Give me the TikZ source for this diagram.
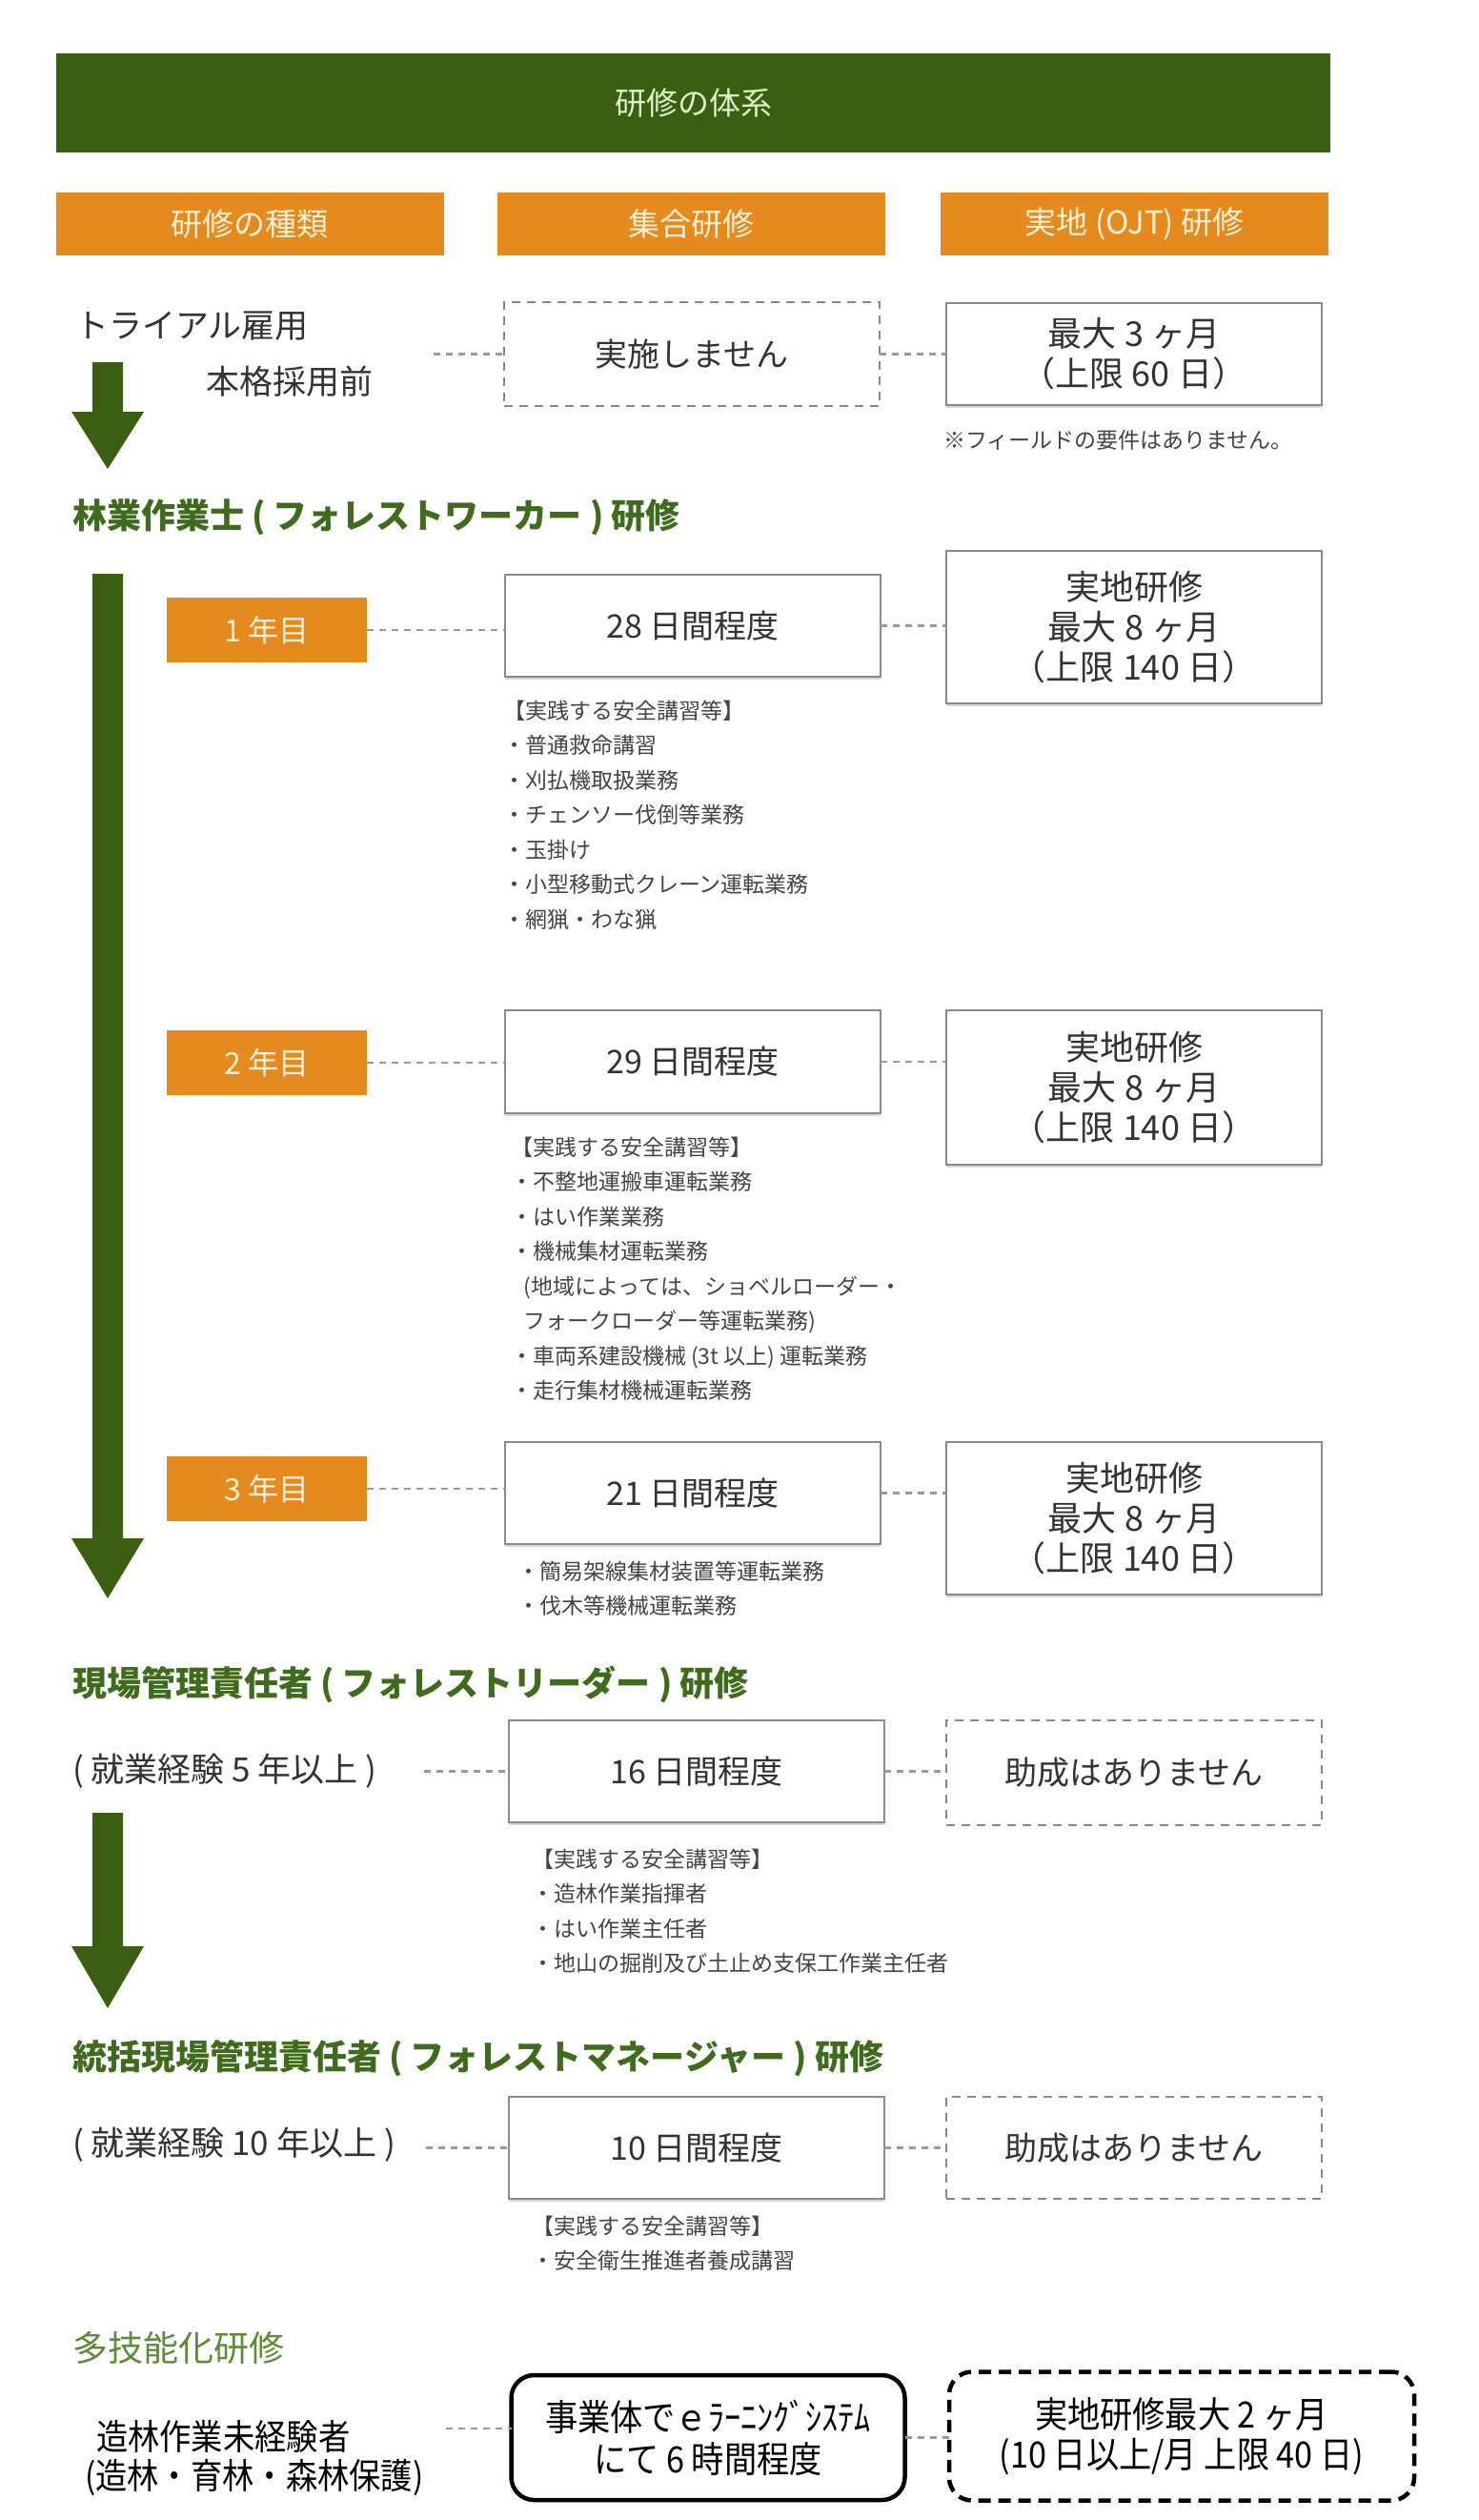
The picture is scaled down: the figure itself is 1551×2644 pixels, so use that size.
\documentclass[tikz,border=0pt]{standalone}
\usepackage{fontspec}
\setmainfont{Noto Sans CJK JP}
\newfontfamily\condfont[FakeStretch=0.9]{Noto Sans CJK JP}
\usetikzlibrary{shadows}
\definecolor{bargreen}{HTML}{3A5F12}
\definecolor{orangec}{HTML}{E58A1E}
\definecolor{headgreen}{HTML}{3E6B1C}
\definecolor{multigreen}{HTML}{5B8C37}
\definecolor{titletext}{HTML}{DDF2C8}
\definecolor{creamtext}{HTML}{FFF0D6}
\definecolor{textgray}{HTML}{333333}
\definecolor{notegray}{HTML}{444444}
\definecolor{boxgray}{HTML}{8A8A8A}
\definecolor{conngray}{HTML}{9A9A9A}
\newcommand\fsz[2]{\fontsize{#1}{#2}\selectfont}
\begin{document}
\begin{tikzpicture}[x=1pt,y=-1pt,
  every node/.style={inner sep=0pt, outer sep=0pt, text=textgray},
  hdr/.style={fill=orangec, minimum width=407pt, minimum height=66pt, text=creamtext, font=\fsz{33}{40}},
  plainbox/.style={draw=boxgray, line width=2.5pt, fill=white, minimum width=394pt, align=center,
     drop shadow={opacity=0.3, shadow xshift=0pt, shadow yshift=-3pt}},
  dashbox/.style={draw=boxgray, line width=2.5pt, dash pattern=on 9pt off 7pt, fill=white, minimum width=394pt, align=center},
  daytext/.style={font=\fsz{34}{42}},
  ojttext/.style={font=\fsz{36}{42}},
  yearbox/.style={fill=orangec, minimum width=210pt, minimum height=68pt, text=creamtext, font=\fsz{32}{40}},
  conn/.style={draw=conngray, line width=2.5pt, dash pattern=on 7pt off 6pt},
  notes/.style={anchor=north west, align=left, text=notegray, font=\fsz{23}{36.5}},
  heading/.style={anchor=west, text=headgreen, font=\fsz{36}{40}\bfseries},
  plain/.style={anchor=west, font=\fsz{35}{42}},
  multitext/.style={text=black, font=\condfont\fsz{37}{44}},
  bigarrow/.style={fill=bargreen}
]
\useasboundingbox[fill=white] (0,0) rectangle (1551,2644);

% title and column headers
\node[fill=bargreen, minimum width=1337pt, minimum height=104pt, text=titletext, font=\fsz{33}{40}] (title) at (727.5,108) {研修の体系};
\node[hdr] (h1) at (262,235) {研修の種類};
\node[hdr] (h2) at (725,235) {集合研修};
\node[hdr] (h3) at (1190.5,235) {実地 (OJT) 研修};

% trial employment
\node[plain] (trial1) at (79,342) {トライアル雇用};
\node[plain] (trial2) at (216,400) {本格採用前};
\node[dashbox, minimum height=109pt, daytext] (none) at (726,371.5) {実施しません};
\node[plainbox, minimum height=107pt, ojttext] (trialojt) at (1190,371.5) {最大 3 ヶ月\\（上限 60 日）};
\coordinate (tc) at (455,371.5);
\draw[conn] (tc) -- (none.west);
\draw[conn] (none.east) -- (trialojt.west);
\node[anchor=west, text=notegray, font=\fsz{23}{30}] (fieldnote) at (990,462) {※フィールドの要件はありません。};
\path[bigarrow] (97,380) -- (129,380) -- (129,432) -- (151,432) -- (113,492) -- (75,432) -- (97,432) -- cycle;

% forest worker
\node[heading] (hw) at (76,543) {林業作業士 ( フォレストワーカー ) 研修};
\path[bigarrow] (97,602) -- (129,602) -- (129,1614) -- (151,1614) -- (113,1677) -- (75,1614) -- (97,1614) -- cycle;

\node[yearbox] (y1) at (280,661) {1 年目};
\node[plainbox, minimum height=107pt, daytext] (b1) at (727,656.5) {28 日間程度};
\node[plainbox, minimum height=160pt, ojttext] (j1) at (1190,658) {実地研修\\最大 8 ヶ月\\（上限 140 日）};
\draw[conn] (y1.east) -- (y1.east -| b1.west);
\draw[conn] (b1.east) -- (b1.east -| j1.west);
\node[notes] (n1) at (528,735) {【実践する安全講習等】\\・普通救命講習\\・刈払機取扱業務\\・チェンソー伐倒等業務\\・玉掛け\\・小型移動式クレーン運転業務\\・網猟・わな猟};

\node[yearbox] (y2) at (280,1115) {2 年目};
\node[plainbox, minimum height=108pt, daytext] (b2) at (727,1114) {29 日間程度};
\node[plainbox, minimum height=162pt, ojttext] (j2) at (1190,1141) {実地研修\\最大 8 ヶ月\\（上限 140 日）};
\draw[conn] (y2.east) -- (y2.east -| b2.west);
\draw[conn] (b2.east) -- (b2.east -| j2.west);
\node[notes] (n2) at (536,1193) {【実践する安全講習等】\\・不整地運搬車運転業務\\・はい作業業務\\・機械集材運転業務\\\hspace*{0.6em}(地域によっては、ショベルローダー・\\\hspace*{0.6em}フォークローダー等運転業務)\\・車両系建設機械 (3t 以上) 運転業務\\・走行集材機械運転業務};

\node[yearbox] (y3) at (280,1562) {3 年目};
\node[plainbox, minimum height=107pt, daytext] (b3) at (727,1566.5) {21 日間程度};
\node[plainbox, minimum height=160pt, ojttext] (j3) at (1190,1593) {実地研修\\最大 8 ヶ月\\（上限 140 日）};
\draw[conn] (y3.east) -- (y3.east -| b3.west);
\draw[conn] (b3.east) -- (b3.east -| j3.west);
\node[notes] (n3) at (543,1638) {・簡易架線集材装置等運転業務\\・伐木等機械運転業務};

% forest leader
\node[heading] (hl) at (76,1767) {現場管理責任者 ( フォレストリーダー ) 研修};
\node[plain] (lexp) at (76,1858) {( 就業経験 5 年以上 )};
\node[plainbox, minimum height=107pt, daytext] (b4) at (731,1858.5) {16 日間程度};
\node[dashbox, minimum height=110pt, daytext] (ns1) at (1190,1860) {助成はありません};
\coordinate (lc) at (445,1858.5);
\draw[conn] (lc) -- (b4.west);
\draw[conn] (b4.east) -- (b4.east -| ns1.west);
\node[notes] (n4) at (558,1940) {【実践する安全講習等】\\・造林作業指揮者\\・はい作業主任者\\・地山の掘削及び土止め支保工作業主任者};
\path[bigarrow] (97,1902) -- (129,1902) -- (129,2042) -- (151,2042) -- (113,2107) -- (75,2042) -- (97,2042) -- cycle;

% forest manager
\node[heading] (hm) at (76,2160) {統括現場管理責任者 ( フォレストマネージャー ) 研修};
\node[plain] (mexp) at (76,2250) {( 就業経験 10 年以上 )};
\node[plainbox, minimum height=107pt, daytext] (b5) at (731,2253.5) {10 日間程度};
\node[dashbox, minimum height=107pt, daytext] (ns2) at (1190,2253.5) {助成はありません};
\coordinate (mc) at (447,2253.5);
\draw[conn] (mc) -- (b5.west);
\draw[conn] (b5.east) -- (ns2.west);
\node[notes] (n5) at (558,2325) {【実践する安全講習等】\\・安全衛生推進者養成講習};

% multi-skill
\node[anchor=west, text=multigreen, font=\fsz{37}{42}] (hmulti) at (76,2463) {多技能化研修};
\node[anchor=west, multitext] (ml1) at (101,2556) {造林作業未経験者};
\node[anchor=west, multitext] (ml2) at (89,2600) {(造林・育林・森林保護)};
\node[draw=black, line width=4.5pt, rounded corners=24pt, minimum width=413pt, minimum height=131pt, align=center, text=black, font=\condfont\fsz{38}{44}] (ebox) at (743,2557.5) {事業体でｅﾗｰﾆﾝｸﾞｼｽﾃﾑ\\にて 6 時間程度};
\node[draw=black, line width=4.5pt, dash pattern=on 13pt off 8pt, rounded corners=24pt, minimum width=488pt, minimum height=135pt, align=center, text=black, font=\condfont\fsz{38}{42}] (ojt2) at (1240,2556) {実地研修最大 2 ヶ月\\(10 日以上/月 上限 40 日)};
\coordinate (xc) at (468,2548);
\draw[conn] (xc) -- (xc -| ebox.west);
\draw[conn] (ebox.east) -- (ebox.east -| ojt2.west);
\end{tikzpicture}
\end{document}
